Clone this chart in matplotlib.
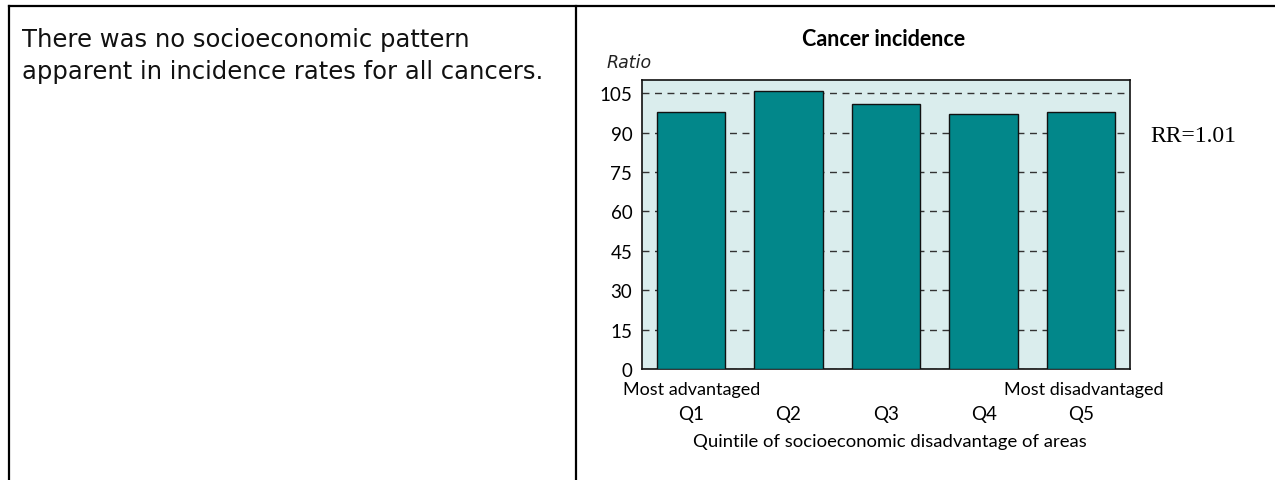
import numpy as np
import matplotlib.pyplot as plt
from matplotlib.lines import Line2D

quintiles = ["Q1", "Q2", "Q3", "Q4", "Q5"]
ratios = [98, 106, 101, 97, 98]
yticks = [0, 15, 30, 45, 60, 75, 90, 105]

W, H = 1275, 481
fig = plt.figure(figsize=(W / 100, H / 100), dpi=100)

def fx(px):
    return px / W

def fy(py):
    return 1 - py / H

# frame lines
fig.add_artist(Line2D([fx(9), 1], [fy(6.5), fy(6.5)], color='black', lw=1.6))
fig.add_artist(Line2D([fx(9), fx(9)], [fy(6.5), 0], color='black', lw=1.6))
fig.add_artist(Line2D([fx(576), fx(576)], [fy(6.5), 0], color='black', lw=1.6))

fig.text(fx(22), fy(40), "There was no socioeconomic pattern", fontsize=17.5,
         family='DejaVu Sans', va='center', ha='left', color='#111111')
fig.text(fx(22), fy(72), "apparent in incidence rates for all cancers.", fontsize=17.5,
         family='DejaVu Sans', va='center', ha='left', color='#111111')

ax = fig.add_axes([fx(642), fy(370), fx(1130) - fx(642), (370 - 81) / H])
ax.set_facecolor('#daeded')
x = np.arange(len(quintiles))
ax.set_axisbelow(True)
ax.yaxis.grid(True, linestyle=(0, (5, 4)), color='#333333', lw=1)
ax.bar(x, ratios, width=0.7, color='#02878a', edgecolor='#111111', linewidth=1, zorder=3)
ax.set_xlim(-0.5, 4.5)
ax.set_ylim(0, 110)
ax.set_yticks(yticks)
ax.set_yticklabels([str(v) for v in yticks], fontsize=13.5, family='Lato')
ax.tick_params(axis='y', length=0, pad=7)
ax.set_xticks(x)
ax.set_xticklabels(quintiles, fontsize=13.5, family='Lato')
ax.tick_params(axis='x', length=0, pad=26)
for s in ax.spines.values():
    s.set_color('#111111')
    s.set_linewidth(1.2)

fig.text(fx(884), fy(39), "Cancer incidence", fontsize=15.5, fontweight='bold',
         family='Lato', ha='center', va='center')
fig.text(fx(607), fy(63), "Ratio", fontsize=12.5, style='italic',
         family='DejaVu Sans', ha='left', va='center', color='#222222')
fig.text(fx(1150), fy(137), "RR=1.01", fontsize=17, family='Liberation Serif',
         ha='left', va='center')
fig.text(fx(623), fy(390), "Most advantaged", fontsize=13, family='Lato',
         ha='left', va='center')
fig.text(fx(1163), fy(390), "Most disadvantaged", fontsize=13, family='Lato',
         ha='right', va='center')
fig.text(fx(890), fy(442), "Quintile of socioeconomic disadvantage of areas",
         fontsize=13.3, family='Lato', ha='center', va='center')

fig.savefig("out.png", dpi=100)
